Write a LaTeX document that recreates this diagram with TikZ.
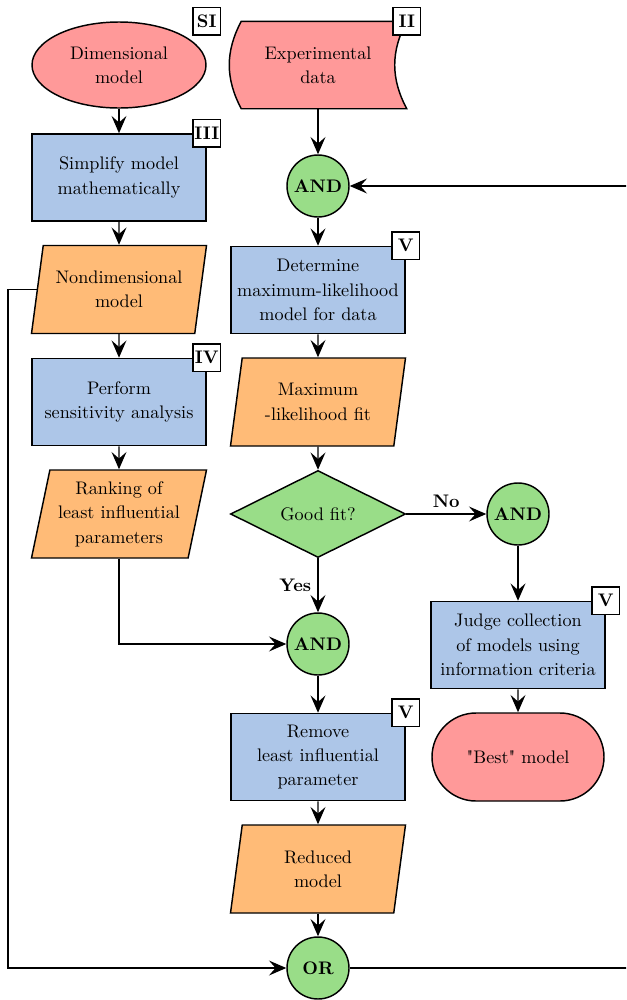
\documentclass[tikz,border=0pt]{standalone}
\usepackage{amsmath}
\usepackage{fontspec}
\newfontfamily\plainquote{Latin Modern Roman}
\usetikzlibrary{shapes.geometric, shapes.misc, arrows.meta, positioning, calc, backgrounds}
\definecolor{flowRed}{HTML}{FF9999}
\definecolor{flowBlue}{HTML}{ADC6E8}
\definecolor{flowOrange}{HTML}{FFBB77}
\definecolor{flowGreen}{HTML}{99DD88}
\tikzset{
  box/.style={thick, align=center, font=\fontsize{10}{13.4}\selectfont, inner xsep=1.5pt},
  process/.style={box, draw, rectangle, fill=flowBlue, minimum width=95.7pt, minimum height=47.9pt},
  io/.style={box, draw, trapezium, trapezium left angle=76.6, trapezium right angle=103.4,
    trapezium stretches body, fill=flowOrange, inner xsep=0.5pt,
    minimum width=96.25pt, minimum height=48.4pt},
  terminal/.style={box, draw, ellipse, fill=flowRed, minimum width=95.7pt, minimum height=47.3pt},
  stadium/.style={box, draw, rounded rectangle, fill=flowRed, minimum width=97.6pt, minimum height=48.4pt},
  storeddata/.style={box, rectangle, minimum width=96.8pt, minimum height=47.3pt},
  decision/.style={box, draw, diamond, aspect=2, fill=flowGreen, minimum width=96.25pt, minimum height=47.9pt},
  gate/.style={draw, thick, circle, fill=flowGreen, minimum size=34.1pt, inner sep=0pt, font=\bfseries},
  tag/.style={draw, thick, fill=white, minimum size=14.9pt, inner sep=0.5pt, font=\bfseries},
  arrow/.style={thick, -{Stealth[length=9.5pt, width=8.2pt, inset=3.6pt]}},
  branch/.style={font=\bfseries}
}

\begin{document}
\begin{tikzpicture}[x=0.55pt, y=-0.55pt]
  \useasboundingbox (0,0) rectangle (626,1000);
  \clip (0,0) rectangle (626,1000);
  \coordinate (leftrail) at (8,0);
  \coordinate (rightrail) at (660,0);

  % Left column: model reduction
  \node[terminal] (dim) at (119,65) {Dimensional\\model};
  \node[process] (simp) at (119,177.5) {Simplify model\\mathematically};
  \node[io] (nondim) at (119,289.5) {Nondimensional\\model};
  \node[process] (sens) at (119,402) {Perform\\sensitivity analysis};
  \node[io] (rank) at (119,514) {Ranking of\\least influential\\parameters};

  % Middle column: fitting
  \node[storeddata] (data) at (318,65) {Experimental\\data};
  \begin{scope}[on background layer]
    \filldraw[thick, fill=flowRed] ($(data.north west)+(12,0)$) -- (data.north east)
      to[bend right=28] (data.south east) -- ($(data.south west)+(12,0)$)
      to[bend left=28] cycle;
  \end{scope}
  \node[gate] (and1) at (318,186) {AND};
  \node[process] (det) at (318,290) {Determine\\maximum-likelihood\\model for data};
  \node[io] (mlfit) at (318,402) {Maximum\\-likelihood fit};
  \node[decision] (good) at (318,514) {Good fit?};
  \node[gate] (and3) at (318,644) {AND};
  \node[process] (remove) at (318,757) {Remove\\least influential\\parameter};
  \node[io] (reduced) at (318,869) {Reduced\\model};
  \node[gate] (or) at (318,968) {OR};

  % Right column: model selection
  \node[gate] (and2) at (518,514) {AND};
  \node[process] (judge) at (518,645) {Judge collection\\of models using\\information criteria};
  \node[stadium] (best) at (518,757) {{\plainquote"}Best{\plainquote"} model};

  % Step tags
  \node[tag] at (dim.north -| dim.east) {SI};
  \node[tag] at (data.north east) {II};
  \node[tag] at (simp.north east) {III};
  \node[tag] at (sens.north east) {IV};
  \node[tag] at (det.north east) {V};
  \node[tag] at (judge.north east) {V};
  \node[tag] at (remove.north east) {V};

  % Connectors
  \draw[arrow] (dim) -- (simp);
  \draw[arrow] (simp) -- (nondim);
  \draw[arrow] (nondim) -- (sens);
  \draw[arrow] (sens) -- (rank);
  \draw[arrow] (data) -- (and1);
  \draw[arrow] (and1) -- (det);
  \draw[arrow] (det) -- (mlfit);
  \draw[arrow] (mlfit) -- (good);
  \draw[arrow] (good) -- node[branch, above] {No} (and2);
  \draw[arrow] (good) -- node[branch, left] {Yes} (and3);
  \draw[arrow] (and2) -- (judge);
  \draw[arrow] (judge) -- (best);
  \draw[arrow] (rank) |- (and3);
  \draw[arrow] (and3) -- (remove);
  \draw[arrow] (remove) -- (reduced);
  \draw[arrow] (reduced) -- (or);
  \draw[arrow] (nondim.left side) -| (leftrail |- or) -- (or);
  \draw[arrow] (or) -| (rightrail |- and1) -- (and1);
\end{tikzpicture}
\end{document}
